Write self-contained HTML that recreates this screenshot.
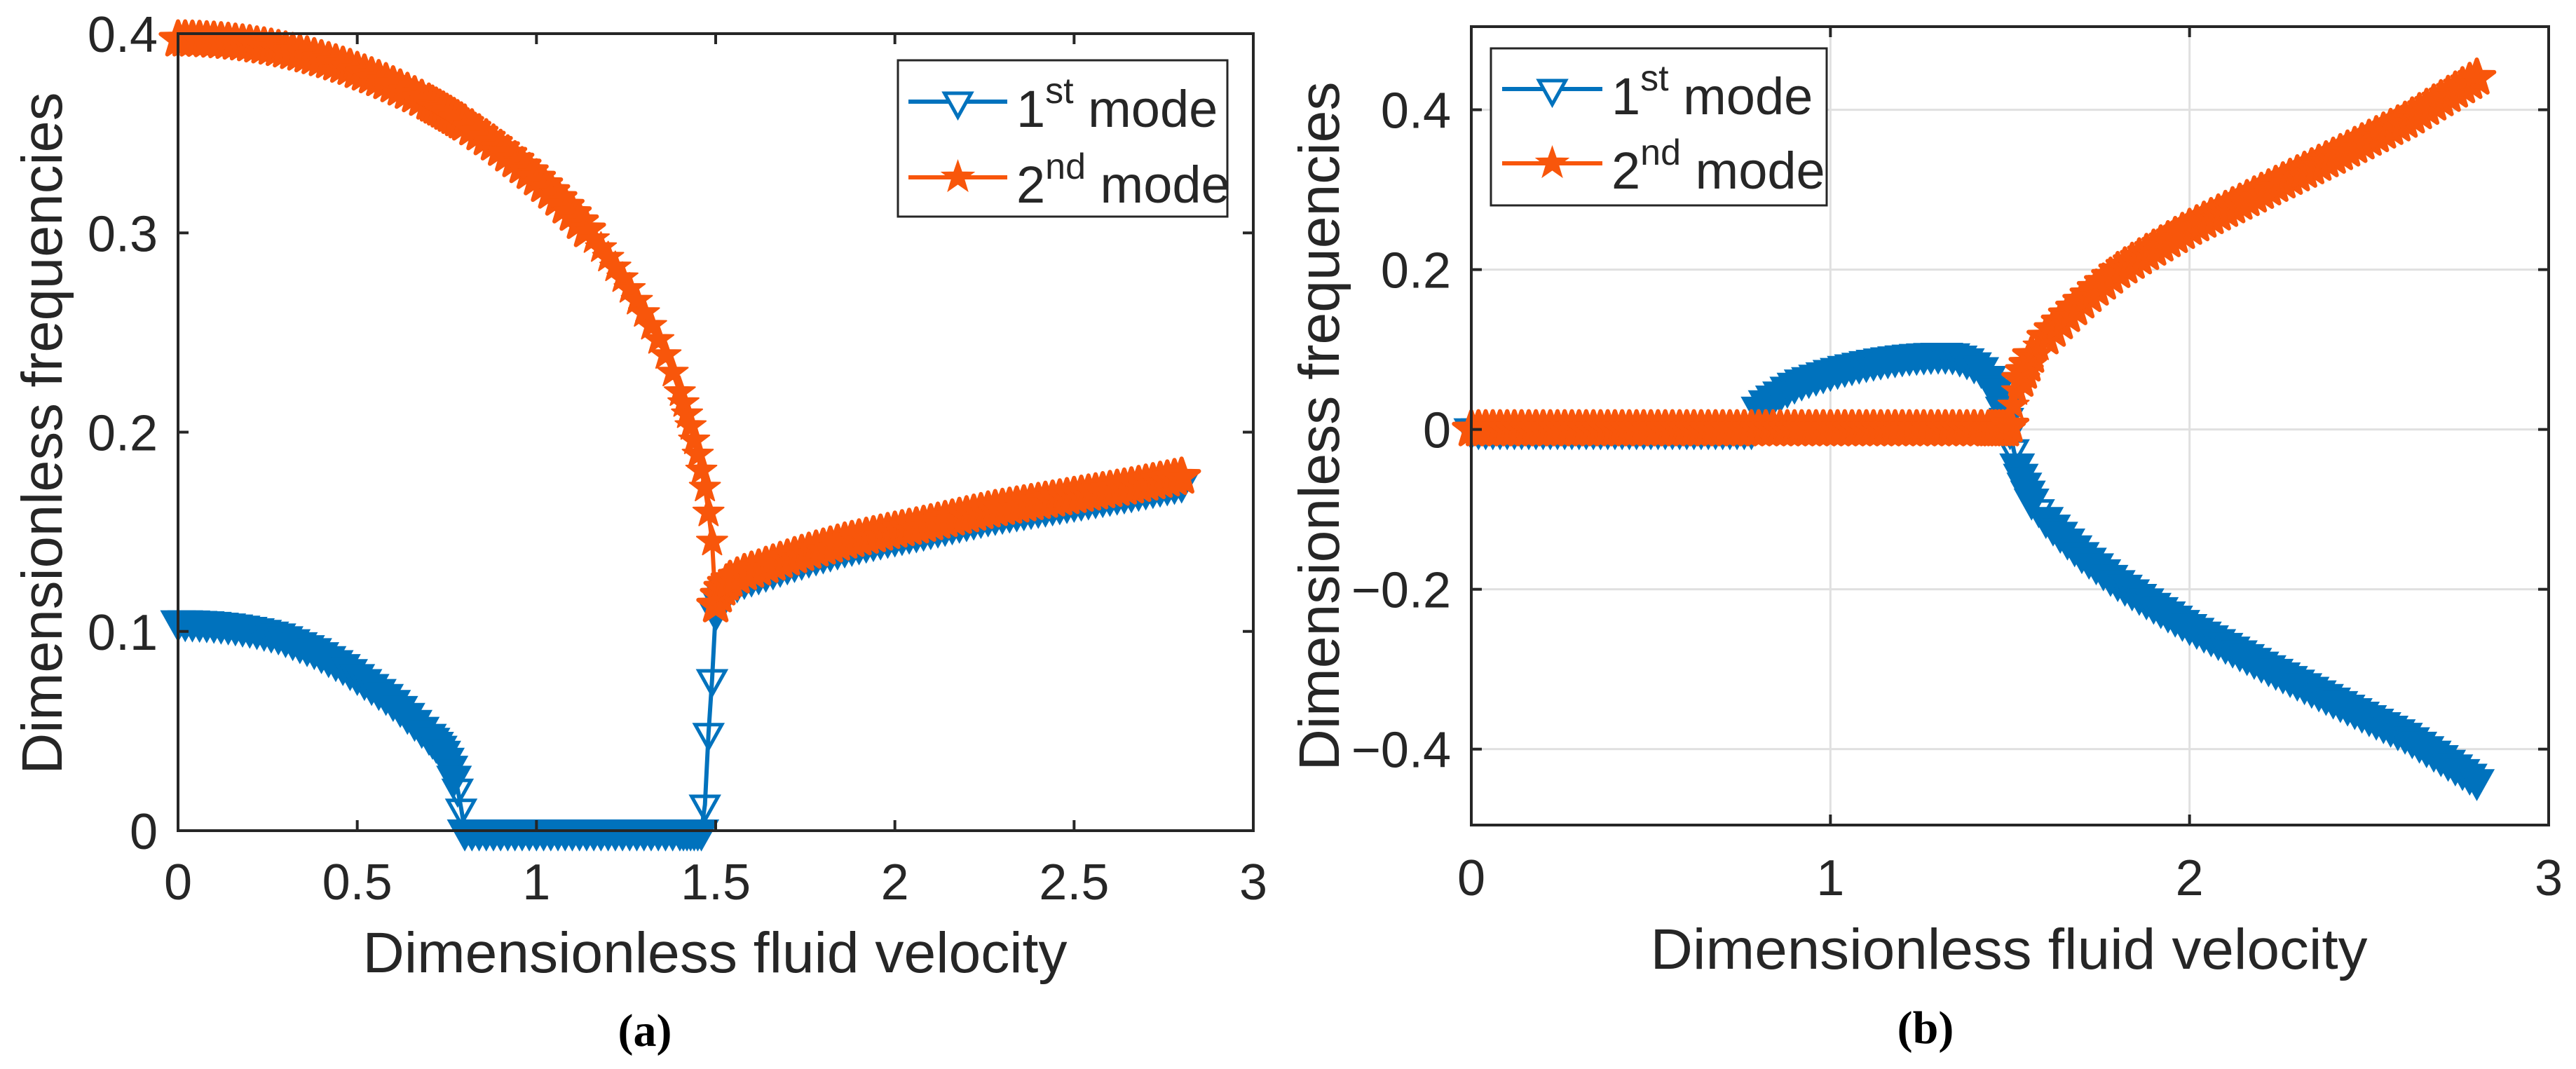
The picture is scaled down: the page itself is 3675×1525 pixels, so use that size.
<!DOCTYPE html>
<html><head><meta charset="utf-8"><style>
html,body{margin:0;padding:0;background:#fff;}
svg{display:block;}
text{font-family:"Liberation Sans",Arial,sans-serif;fill:#262626;}
.cap{font-family:"Liberation Serif",serif;font-weight:bold;fill:#000;}
</style></head><body>
<svg id="fig" xmlns="http://www.w3.org/2000/svg" width="3675" height="1525" viewBox="0 0 3675 1525">
<rect x="0" y="0" width="3675" height="1525" fill="#fff"/>
<g id="pa"></g>
<g id="pb"></g>
</svg>
<script>
// ---------- Panel (a) data ----------
const xA = [0,0.02,0.04,0.06,0.08,0.1,0.12,0.14,0.16,0.18,0.2,0.22,0.24,0.26,0.28,0.3,0.32,0.34,0.36,0.38,0.4,0.42,0.44,0.46,0.48,0.5,0.52,0.54,0.56,0.58,0.6,0.62,0.64,0.66,0.68,0.7,
0.71,0.72,0.73,0.74,0.75,0.76,0.77,0.78,0.79,0.8,
0.82,0.84,0.86,0.88,0.9,0.92,0.94,0.96,0.98,1,1.02,1.04,1.06,1.08,1.1,1.12,1.14,1.16,1.18,1.2,1.22,1.24,1.26,1.28,1.3,1.32,1.34,1.36,1.38,1.4,
1.41,1.42,1.43,1.44,1.45,1.46,1.47,1.48,1.49,1.5,1.51,1.52,1.53,1.54,
1.56,1.58,1.6,1.62,1.64,1.66,1.68,1.7,1.72,1.74,1.76,1.78,1.8,1.82,1.84,1.86,1.88,1.9,1.92,1.94,1.96,1.98,2,2.02,2.04,2.06,2.08,2.1,2.12,2.14,2.16,2.18,2.2,2.22,2.24,2.26,2.28,2.3,2.32,2.34,2.36,2.38,2.4,2.42,2.44,2.46,2.48,2.5,2.52,2.54,2.56,2.58,2.6,2.62,2.64,2.66,2.68,2.7,2.72,2.74,2.76,2.78,2.8];
const mode1A = [0.105,0.105,0.1049,0.1047,0.1045,0.1042,0.1038,0.1034,0.1029,0.1023,0.1017,0.101,0.1002,0.0993,0.0984,0.097,0.0955,0.094,0.0925,0.091,0.089,0.087,0.085,0.083,0.0805,0.078,0.0755,0.073,0.0705,0.068,0.065,0.062,0.0585,0.055,0.0515,0.048,
0.046,0.044,0.042,0.0395,0.036,0.032,0.027,0.021,0.011,0,
0,0,0,0,0,0,0,0,0,0,0,0,0,0,0,0,0,0,0,0,0,0,0,0,0,0,0,0,0,0,
0,0,0,0,0,0,0.013,0.049,0.076,0.110,0.115,0.1185,0.121,0.1228,
0.1245,0.1262,0.1274,0.1285,0.1298,0.131,0.1323,0.1335,0.1347,0.1358,0.1369,0.138,0.139,0.14,0.141,0.142,0.1428,0.1436,0.1444,0.1452,0.146,0.1468,0.1475,0.1482,0.1489,0.1496,0.1504,0.1512,0.152,0.1528,0.1536,0.1544,0.1552,0.156,0.1568,0.1576,0.1583,0.1589,0.1595,0.1601,0.1607,0.1613,0.1619,0.1625,0.1631,0.1637,0.1643,0.1649,0.1655,0.1661,0.1667,0.1673,0.1679,0.1685,0.1691,0.1697,0.1704,0.1711,0.1718,0.1725,0.1732,0.1739,0.1746];
const mode2A = [0.397,0.397,0.3969,0.3968,0.3966,0.3964,0.3961,0.3958,0.3954,0.395,0.3946,0.394,0.3935,0.3929,0.3922,0.3915,0.3907,0.3899,0.389,0.3881,0.3871,0.3861,0.385,0.3838,0.3827,0.3812,0.3799,0.3785,0.3771,0.3756,0.374,0.3724,0.3707,0.369,0.3672,0.3653,
0.3643,0.3633,0.3623,0.3613,0.3602,0.3592,0.3581,0.357,0.3559,0.3548,
0.3524,0.3499,0.3474,0.3448,0.3421,0.3393,0.3364,0.3334,0.3305,0.3273,0.324,0.3206,0.3171,0.3132,0.3095,0.3054,0.3013,0.2969,0.2924,0.2876,0.2827,0.2773,0.2719,0.266,0.2598,0.2534,0.2463,0.2387,0.2299,0.2201,
0.2146,0.209,0.2031,0.1959,0.1888,0.1808,0.1722,0.1597,0.1451,0.113,0.118,0.1215,0.124,0.1258,
0.1275,0.1292,0.1304,0.1315,0.1328,0.134,0.1353,0.1365,0.1377,0.1388,0.1399,0.141,0.142,0.143,0.144,0.145,0.1458,0.1466,0.1474,0.1482,0.149,0.1498,0.1505,0.1512,0.1519,0.1526,0.1534,0.1542,0.155,0.1558,0.1566,0.1574,0.1582,0.159,0.1598,0.1606,0.1613,0.1619,0.1625,0.1631,0.1637,0.1643,0.1649,0.1655,0.1661,0.1667,0.1673,0.1679,0.1685,0.1691,0.1697,0.1703,0.1709,0.1715,0.1721,0.1727,0.1734,0.1741,0.1748,0.1755,0.1762,0.1769,0.1776];
const xTicksA = [0,0.5,1,1.5,2,2.5,3];
const xTickLabelsA = ["0","0.5","1","1.5","2","2.5","3"];
const yTicksA = [0,0.1,0.2,0.3,0.4];
const yTickLabelsA = ["0","0.1","0.2","0.3","0.4"];

// ---------- Panel (b) data ----------
const xB = [0,0.02,0.04,0.06,0.08,0.1,0.12,0.14,0.16,0.18,0.2,0.22,0.24,0.26,0.28,0.3,0.32,0.34,0.36,0.38,0.4,0.42,0.44,0.46,0.48,0.5,0.52,0.54,0.56,0.58,0.6,0.62,0.64,0.66,0.68,0.7,0.72,0.74,0.76,0.78,
0.8,0.82,0.84,0.86,0.88,0.9,0.92,0.94,0.96,0.98,1,1.02,1.04,1.06,1.08,1.1,1.12,1.14,1.16,1.18,1.2,1.22,1.24,1.26,1.28,1.3,1.32,1.34,1.36,1.38,1.4,1.42,1.44,
1.45,1.46,1.47,1.48,1.49,1.5,1.51,1.52,1.53,1.54,1.55,
1.56,1.58,1.6,1.62,1.64,1.66,1.68,1.7,1.72,1.74,1.76,1.78,1.8,1.82,1.84,1.86,1.88,1.9,1.92,1.94,1.96,1.98,2,2.02,2.04,2.06,2.08,2.1,2.12,2.14,2.16,2.18,2.2,2.22,2.24,2.26,2.28,2.3,2.32,2.34,2.36,2.38,2.4,2.42,2.44,2.46,2.48,2.5,2.52,2.54,2.56,2.58,2.6,2.62,2.64,2.66,2.68,2.7,2.72,2.74,2.76,2.78,2.8];
const mode1B = [0,0,0,0,0,0,0,0,0,0,0,0,0,0,0,0,0,0,0,0,0,0,0,0,0,0,0,0,0,0,0,0,0,0,0,0,0,0,0,0,
0.027,0.035,0.041,0.046,0.052,0.057,0.061,0.064,0.067,0.070,0.073,0.0755,0.078,0.080,0.082,0.084,0.0857,0.0873,0.0887,0.09,0.0912,0.0922,0.093,0.0937,0.0942,0.0945,0.0944,0.0938,0.091,0.0875,0.0825,0.0765,0.0655,
0.058,0.049,0.039,0.027,0.013,0,-0.025,-0.044,-0.057,-0.068,-0.078,
-0.088,-0.100,-0.111,-0.1205,-0.1295,-0.138,-0.1465,-0.155,-0.162,-0.169,-0.1765,-0.1835,-0.190,-0.1958,-0.2016,-0.2073,-0.2129,-0.2184,-0.2238,-0.2292,-0.2345,-0.2398,-0.245,-0.2497,-0.2544,-0.2591,-0.2638,-0.2685,-0.2732,-0.2779,-0.2826,-0.2873,-0.292,-0.2965,-0.301,-0.3055,-0.31,-0.3145,-0.319,-0.3235,-0.328,-0.3325,-0.337,-0.3414,-0.3458,-0.3502,-0.3546,-0.359,-0.3634,-0.3678,-0.3722,-0.3766,-0.381,-0.3866,-0.3922,-0.3978,-0.4034,-0.409,-0.4148,-0.4206,-0.4264,-0.4322,-0.439];
const mode2B = [0,0,0,0,0,0,0,0,0,0,0,0,0,0,0,0,0,0,0,0,0,0,0,0,0,0,0,0,0,0,0,0,0,0,0,0,0,0,0,0,
0,0,0,0,0,0,0,0,0,0,0,0,0,0,0,0,0,0,0,0,0,0,0,0,0,0,0,0,0,0,0,0,0,
0,0,0,0,0,0.005,0.03,0.048,0.062,0.072,0.081,
0.092,0.104,0.115,0.1245,0.134,0.143,0.1515,0.160,0.168,0.176,0.1835,0.191,0.198,0.2038,0.2095,0.2151,0.2206,0.226,0.2313,0.2366,0.2418,0.2469,0.252,0.2565,0.261,0.2655,0.27,0.2745,0.279,0.2835,0.288,0.2925,0.297,0.3014,0.3058,0.3102,0.3146,0.319,0.3234,0.3278,0.3322,0.3366,0.341,0.3455,0.35,0.3545,0.359,0.3635,0.368,0.3725,0.377,0.3815,0.386,0.3914,0.3968,0.4022,0.4076,0.413,0.4184,0.4238,0.4292,0.4346,0.440];
const xTicksB = [0,1,2,3];
const xTickLabelsB = ["0","1","2","3"];
const yTicksB = [-0.4,-0.2,0,0.2,0.4];
const yTickLabelsB = ["\u22120.4","\u22120.2","0","0.2","0.4"];
const legendLabels = ["st","nd"];

const NS = "http://www.w3.org/2000/svg";
const BLUE = "#0072BD", ORANGE = "#F8560B", AX = "#262626";

function el(parent, tag, attrs) {
  const e = document.createElementNS(NS, tag);
  for (const k in attrs) e.setAttribute(k, attrs[k]);
  parent.appendChild(e);
  return e;
}
function triPath(x, y, s) {
  s = s || 1;
  return "M" + (x-19*s) + "," + (y-12*s) + "L" + (x+19*s) + "," + (y-12*s) + "L" + x + "," + (y+22*s) + "Z";
}
function starPath(x, y, R) {
  let d = "";
  for (let i = 0; i < 10; i++) {
    const a = -Math.PI/2 + i*Math.PI/5;
    const r = (i % 2 === 0) ? R : R*0.4;
    d += (i === 0 ? "M" : "L") + (x + r*Math.cos(a)).toFixed(1) + "," + (y + r*Math.sin(a)).toFixed(1);
  }
  return d + "Z";
}

function drawPanel(g, cfg) {
  const sx = v => cfg.x0 + (v - cfg.xmin) / (cfg.xmax - cfg.xmin) * (cfg.x1 - cfg.x0);
  const sy = v => cfg.y1 - (v - cfg.ymin) / (cfg.ymax - cfg.ymin) * (cfg.y1 - cfg.y0);

  if (cfg.grid) {
    cfg.xTicks.forEach(t => {
      const l = el(g, "line", {x1: sx(t), x2: sx(t), y1: cfg.y0, y2: cfg.y1, stroke: "#e0e0e0", "stroke-width": 3});
      
      
    });
    cfg.yTicks.forEach(t => {
      const l = el(g, "line", {x1: cfg.x0, x2: cfg.x1, y1: sy(t), y2: sy(t), stroke: "#e0e0e0", "stroke-width": 3});
      
      
    });
  }

  const series = [
    {xs: cfg.xs, ys: cfg.y1s, color: BLUE, kind: "tri", name: "mode-1"},
    {xs: cfg.xs, ys: cfg.y2s, color: ORANGE, kind: "star", name: "mode-2"}
  ];
  series.forEach(s => {
    const sg = el(g, "g", {});
    
    
    const n = Math.min(s.xs.length, s.ys.length);
    const P = [];
    for (let i = 0; i < n; i++) P.push([sx(s.xs[i]), sy(s.ys[i])]);
    let d = "";
    P.forEach((p, i) => { d += (i ? "L" : "M") + p[0].toFixed(1) + "," + p[1].toFixed(1); });
    const line = el(sg, "path", {d: d, fill: "none", stroke: s.color, "stroke-width": 6, "stroke-linejoin": "round"});
    
    
    for (let i = 0; i < n; i++) {
      const px = P[i][0], py = P[i][1];
      let dmin = 1e9;
      if (i > 0) dmin = Math.min(dmin, Math.hypot(px - P[i-1][0], py - P[i-1][1]));
      if (i < n - 1) dmin = Math.min(dmin, Math.hypot(px - P[i+1][0], py - P[i+1][1]));
      const dense = dmin < 16;
      let m;
      if (s.kind === "tri") {
        m = el(sg, "path", {d: triPath(px, py, dense ? 1.12 : 1), fill: dense ? s.color : "none", stroke: s.color, "stroke-width": 5});
      } else {
        m = el(sg, "path", {d: starPath(px, py, dense ? 26 : 23), fill: s.color, stroke: s.color, "stroke-width": dense ? 6 : 2, "stroke-linejoin": "round"});
      }
      
      
    }
  });

  const box = el(g, "rect", {x: cfg.x0, y: cfg.y0, width: cfg.x1 - cfg.x0, height: cfg.y1 - cfg.y0, fill: "none", stroke: AX, "stroke-width": 4});
  
  

  cfg.xTicks.forEach((t, i) => {
    const x = sx(t);
    const a = el(g, "line", {x1: x, x2: x, y1: cfg.y1, y2: cfg.y1 - 15, stroke: AX, "stroke-width": 4});
    
    
    const b = el(g, "line", {x1: x, x2: x, y1: cfg.y0, y2: cfg.y0 + 15, stroke: AX, "stroke-width": 4});
    
    
    const tx = el(g, "text", {x: x, y: cfg.xLabelBase, "font-size": 72, "text-anchor": "middle"});
    tx.textContent = cfg.xTickLabels[i];
    
    
  });
  cfg.yTicks.forEach((t, i) => {
    const y = sy(t);
    const a = el(g, "line", {x1: cfg.x0, x2: cfg.x0 + 15, y1: y, y2: y, stroke: AX, "stroke-width": 4});
    
    
    const b = el(g, "line", {x1: cfg.x1, x2: cfg.x1 - 15, y1: y, y2: y, stroke: AX, "stroke-width": 4});
    
    
    const tx = el(g, "text", {x: cfg.yLabelRight, y: y + 26, "font-size": 72, "text-anchor": "end"});
    tx.textContent = cfg.yTickLabels[i];
    
    
  });

  const xt = el(g, "text", {x: cfg.xTitleX, y: cfg.xTitleY, "font-size": 82, "text-anchor": "middle", textLength: cfg.xTitleLen, lengthAdjust: "spacingAndGlyphs"});
  xt.textContent = "Dimensionless fluid velocity";
  
  
  const yt = el(g, "text", {x: 0, y: 0, "font-size": 82, "text-anchor": "middle", textLength: cfg.yTitleLen, lengthAdjust: "spacingAndGlyphs", transform: "translate(" + cfg.yTitleX + "," + cfg.yTitleY + ") rotate(-90)"});
  yt.textContent = "Dimensionless frequencies";
  
  

  const lg = el(g, "g", {});
  
  
  const lr = el(lg, "rect", {x: cfg.lgX0, y: cfg.lgY0, width: cfg.lgX1 - cfg.lgX0, height: cfg.lgY1 - cfg.lgY0, fill: "#fff", stroke: AX, "stroke-width": 3});
  
  
  [0, 1].forEach(k => {
    const ey = cfg.lgRows[k];
    const color = k === 0 ? BLUE : ORANGE;
    const ent = el(lg, "g", {});
    
    
    el(ent, "line", {x1: cfg.lgLine0, x2: cfg.lgLine1, y1: ey, y2: ey, stroke: color, "stroke-width": 6});
    const mx = (cfg.lgLine0 + cfg.lgLine1) / 2;
    if (k === 0) el(ent, "path", {d: triPath(mx, ey, 1), fill: "#fff", stroke: color, "stroke-width": 5});
    else el(ent, "path", {d: starPath(mx, ey, 23), fill: color, stroke: color, "stroke-width": 2});
    const t = el(ent, "text", {x: cfg.lgText, y: ey + 36, "font-size": 74, fill: "#000"});
    const t1 = el(t, "tspan", {});
    t1.textContent = String(k + 1);
    const t2 = el(t, "tspan", {"font-size": 52, dy: -34});
    t2.textContent = legendLabels[k];
    const t3 = el(t, "tspan", {dy: 34});
    t3.textContent = " mode";
    
    
  });

  const c = el(g, "text", {x: cfg.capX, y: cfg.capY, "font-size": 66, "text-anchor": "middle", class: "cap"});
  c.textContent = cfg.cap;
  
  
}

drawPanel(document.getElementById("pa"), {
  x0: 254, x1: 1788, y0: 48, y1: 1185, xmin: 0, xmax: 3, ymin: 0, ymax: 0.4, grid: false,
  xs: xA, y1s: mode1A, y2s: mode2A,
  xTicks: xTicksA, xTickLabels: xTickLabelsA, yTicks: yTicksA, yTickLabels: yTickLabelsA,
  xLabelBase: 1283, yLabelRight: 225,
  xTitleX: 1020, xTitleY: 1387, xTitleLen: 1005,
  yTitleX: 88, yTitleY: 618, yTitleLen: 973,
  lgX0: 1281, lgX1: 1751, lgY0: 86, lgY1: 309, lgRows: [145, 253], lgLine0: 1296, lgLine1: 1437, lgText: 1450,
  capX: 920, capY: 1492, cap: "(a)"
});
drawPanel(document.getElementById("pb"), {
  x0: 2099, x1: 3636, y0: 38, y1: 1177, xmin: 0, xmax: 3, ymin: -0.495, ymax: 0.504, grid: true,
  xs: xB, y1s: mode1B, y2s: mode2B,
  xTicks: xTicksB, xTickLabels: xTickLabelsB, yTicks: yTicksB, yTickLabels: yTickLabelsB,
  xLabelBase: 1277, yLabelRight: 2070,
  xTitleX: 2866, xTitleY: 1382, xTitleLen: 1023,
  yTitleX: 1910, yTitleY: 608, yTitleLen: 983,
  lgX0: 2127, lgX1: 2606, lgY0: 69, lgY1: 293, lgRows: [127, 233], lgLine0: 2143, lgLine1: 2286, lgText: 2299,
  capX: 2747, capY: 1488, cap: "(b)"
});
</script>
</body></html>
